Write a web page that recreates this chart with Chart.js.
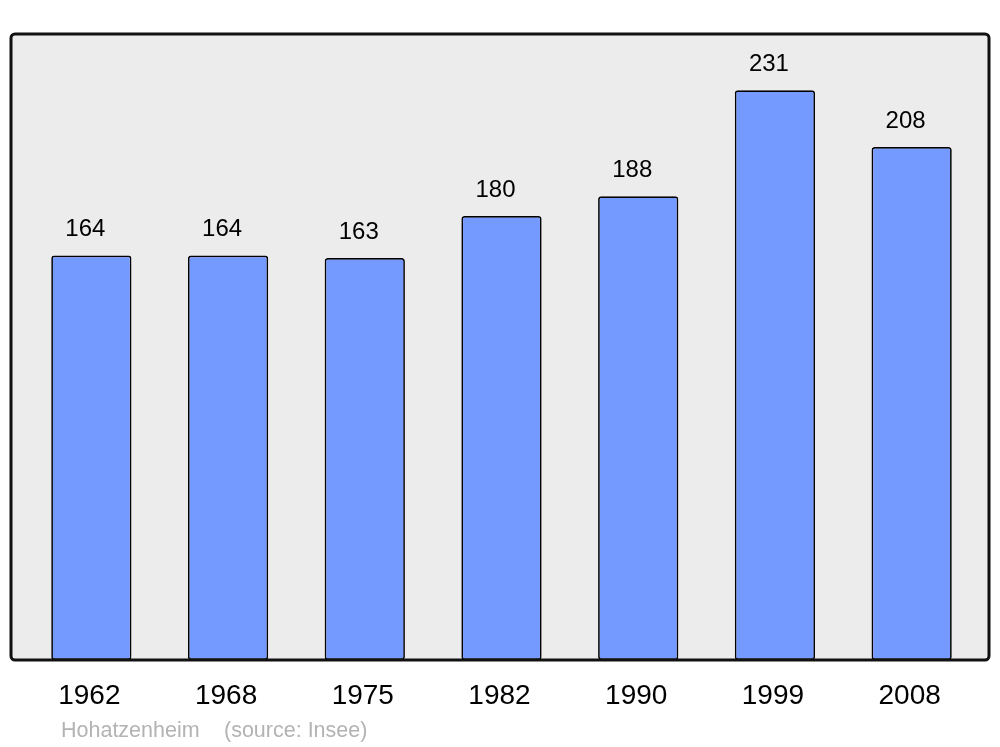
<!DOCTYPE html>
<html>
<head>
<meta charset="utf-8">
<script src="https://cdn.jsdelivr.net/npm/chart.js@4/dist/chart.umd.min.js"></script>
<style>
  html, body { margin: 0; padding: 0; background: #ffffff; }
  #wrap { width: 1000px; height: 747px; }
</style>
</head>
<body>
<div id="wrap"><canvas id="popChart" width="1000" height="747"></canvas></div>
<script>
const years = ['1962', '1968', '1975', '1982', '1990', '1999', '2008'];
const population = [164, 164, 163, 180, 188, 231, 208];
const placeName = 'Hohatzenheim';
const sourceNote = '(source: Insee)';

const fontFamily = '"Liberation Sans", Arial, sans-serif';

// grey panel behind the bars, frame drawn on top of them
const framePlugin = {
    id: 'frame',
    beforeDatasetsDraw(chart) {
        const { ctx, chartArea } = chart;
        ctx.save();
        ctx.beginPath();
        ctx.roundRect(chartArea.left - 12, chartArea.top, chartArea.width + 21, chartArea.height, 4);
        ctx.fillStyle = '#ececec';
        ctx.fill();
        ctx.restore();
    },
    afterDatasetsDraw(chart) {
        const { ctx, chartArea } = chart;
        ctx.save();
        ctx.beginPath();
        ctx.roundRect(chartArea.left - 12, chartArea.top, chartArea.width + 21, chartArea.height, 4);
        ctx.lineWidth = 3;
        ctx.strokeStyle = '#111111';
        ctx.stroke();

        // value labels above each bar
        const meta = chart.getDatasetMeta(0);
        ctx.font = '24px ' + fontFamily;
        ctx.fillStyle = '#000000';
        ctx.textAlign = 'center';
        ctx.textBaseline = 'alphabetic';
        meta.data.forEach((bar, i) => {
            ctx.fillText(String(population[i]), bar.x - 6, bar.y - 19);
        });

        // caption
        ctx.font = '21.5px ' + fontFamily;
        ctx.fillStyle = '#b3b3b3';
        ctx.textAlign = 'left';
        ctx.fillText(placeName, 61, 737);
        ctx.fillText(sourceNote, 224, 737);
        ctx.restore();
    }
};

new Chart(document.getElementById('popChart').getContext('2d'), {
    type: 'bar',
    data: {
        labels: years,
        datasets: [{
            data: population,
            backgroundColor: '#7499ff',
            borderColor: '#000000',
            borderWidth: 1.7,
            borderRadius: 3,
            borderSkipped: false,
            barPercentage: 0.587,
            categoryPercentage: 1
        }]
    },
    options: {
        responsive: false,
        animation: false,
        layout: {
            padding: { left: 23, right: 20, top: 34, bottom: 14.4 }
        },
        plugins: {
            legend: { display: false },
            tooltip: { enabled: false }
        },
        scales: {
            x: {
                grid: { display: false, drawTicks: false },
                border: { display: false },
                ticks: {
                    color: '#000000',
                    padding: 19.5,
                    labelOffset: -2,
                    font: { family: fontFamily, size: 28 }
                }
            },
            y: {
                display: false,
                min: 0,
                max: 253.8
            }
        }
    },
    plugins: [framePlugin]
});
</script>
</body>
</html>
